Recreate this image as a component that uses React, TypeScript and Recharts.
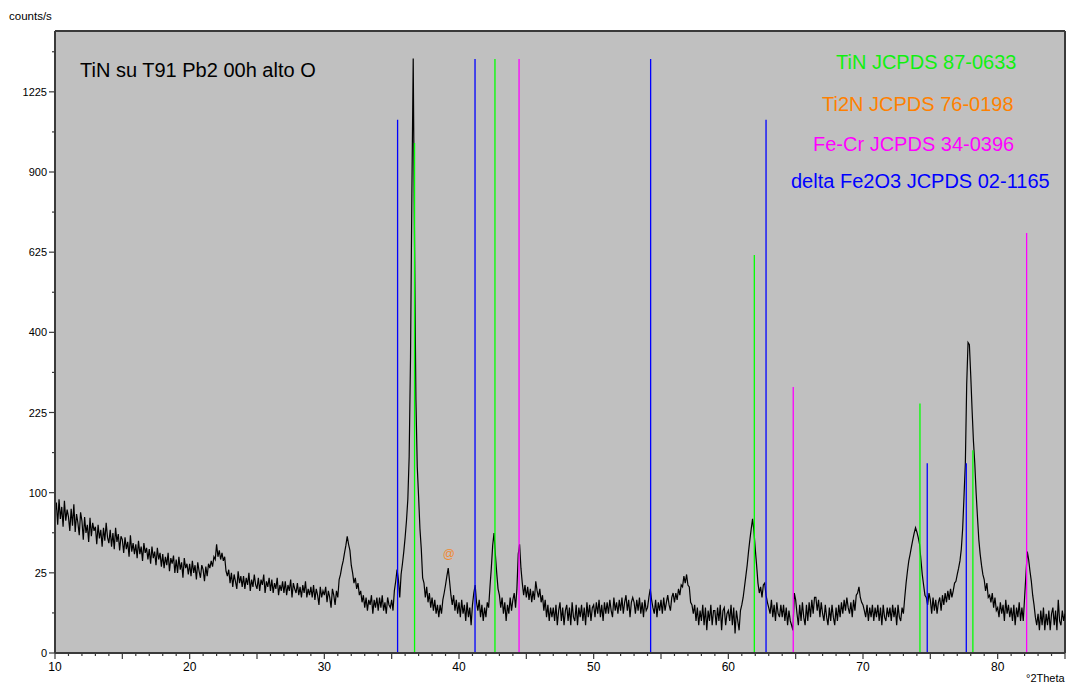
import React from 'react';
import { ComposedChart, Line, XAxis, YAxis, CartesianGrid, ReferenceLine, Scatter } from 'recharts';

const FONT = "'Liberation Sans', Arial, Helvetica, sans-serif";

// 2-theta grid: start and step of the measured pattern
const T_START = 10;
const T_STEP = 0.1;

// measured counts/s, one row per degree (x.0 ... x.9)
const counts: number[] = [
  76, 88, 64, 92, 70, 83, 62, 90, 68, 80, // 10
  72, 58, 81, 63, 86, 57, 75, 66, 54, 77, // 11
  68, 50, 72, 56, 64, 48, 71, 53, 66, 58, // 12
  62, 46, 64, 51, 59, 44, 61, 49, 66, 52, // 13
  47, 59, 44, 56, 42, 61, 48, 55, 41, 53, // 14
  50, 39, 52, 42, 48, 36, 54, 40, 47, 38, // 15
  46, 35, 49, 38, 44, 33, 47, 39, 43, 34, // 16
  42, 31, 44, 35, 40, 30, 43, 34, 39, 29, // 17
  38, 28, 36, 30, 39, 26, 35, 31, 37, 25, // 18
  34, 25, 36, 27, 32, 22, 35, 28, 31, 24, // 19
  31, 23, 33, 25, 30, 21, 32, 26, 22, 30, // 20
  27, 20, 29, 23, 31, 28, 33, 29, 36, 34, // 21
  46, 36, 41, 34, 39, 33, 36, 26, 23, 27, // 22
  19, 25, 17, 24, 20, 16, 26, 19, 23, 17, // 23
  23, 16, 22, 18, 25, 15, 21, 17, 24, 18, // 24
  16, 22, 15, 21, 18, 24, 14, 20, 17, 22, // 25
  15, 21, 14, 19, 16, 22, 13, 18, 15, 20, // 26
  14, 20, 13, 18, 15, 21, 12, 19, 16, 14, // 27
  19, 13, 17, 12, 18, 14, 20, 12, 16, 13, // 28
  17, 12, 18, 11, 16, 13, 9, 17, 12, 15,  // 29
  13, 17, 10, 15, 12, 8, 16, 13, 9, 15,   // 30
  12, 21, 24, 29, 33, 39, 45, 53, 46, 41, // 31
  30, 25, 19, 22, 16, 19, 13, 15, 10, 13, // 32
  8, 12, 7, 11, 9, 13, 6, 11, 8, 12,      // 33
  7, 12, 8, 13, 7, 10, 6, 12, 9, 8,       // 34
  11, 7, 15, 20, 27, 21, 12, 24, 31, 40,  // 35
  52, 68, 92, 150, 340, 820, 1375, 640, 250, 135, // 36
  95, 60, 42, 22, 19, 12, 17, 10, 14, 8,  // 37
  12, 7, 11, 6, 9, 5, 9, 6, 11, 14,       // 38
  18, 23, 28, 20, 13, 9, 13, 7, 11, 6,    // 39
  10, 5, 11, 6, 9, 4, 10, 5, 8, 3,        // 40
  9, 14, 18, 10, 7, 11, 5, 9, 4, 8,       // 41
  5, 10, 8, 17, 28, 45, 56, 38, 25, 16,   // 42
  13, 8, 12, 6, 10, 4, 9, 6, 12, 7,       // 43
  11, 14, 8, 16, 38, 46, 28, 19, 13, 18,  // 44
  12, 17, 11, 16, 10, 15, 11, 20, 15, 12, // 45
  16, 10, 13, 7, 11, 5, 9, 4, 8, 5,       // 46
  8, 4, 9, 3, 7, 10, 4, 8, 3, 7,          // 47
  9, 4, 8, 3, 10, 5, 4, 9, 3, 8,          // 48
  5, 9, 4, 8, 3, 10, 5, 9, 4, 8,          // 49
  9, 5, 10, 6, 11, 5, 9, 4, 10, 6,        // 50
  10, 6, 11, 7, 5, 12, 7, 10, 6, 11,      // 51
  7, 12, 6, 10, 13, 7, 11, 5, 10, 12,     // 52
  10, 6, 11, 7, 12, 6, 10, 5, 11, 7,      // 53
  8, 12, 16, 11, 8, 6, 11, 5, 10, 7,      // 54
  11, 6, 12, 7, 10, 13, 9, 7, 12, 14,     // 55
  10, 14, 11, 16, 13, 18, 17, 23, 19, 24, // 56
  18, 17, 10, 9, 6, 9, 4, 8, 3, 7,        // 57
  4, 9, 3, 8, 2, 7, 4, 9, 3, 7,           // 58
  7, 3, 8, 4, 9, 2, 7, 8, 3, 6,           // 59
  7, 4, 9, 3, 8, 1.5, 7, 4, 2, 7,         // 60
  9, 12, 17, 23, 30, 40, 50, 60, 70, 58,  // 61
  42, 30, 19, 14, 17, 12, 18, 19, 13, 10, // 62
  8, 6, 11, 5, 9, 4, 10, 6, 5, 9,         // 63
  5, 9, 4, 8, 3, 7, 4, 3, 2, 14,          // 64
  11, 6, 3, 9, 4, 10, 5, 3, 9, 4,         // 65
  10, 5, 11, 6, 12, 12, 7, 11, 5, 10,     // 66
  6, 4, 9, 5, 3, 8, 4, 9, 5, 3,           // 67
  8, 4, 9, 5, 10, 6, 11, 7, 12, 8,        // 68
  6, 10, 5, 11, 7, 13, 14, 17, 12, 10,    // 69
  9, 7, 5, 9, 4, 8, 5, 9, 4, 8,           // 70
  5, 9, 4, 8, 3, 9, 5, 4, 8, 5,           // 71
  8, 4, 9, 5, 8, 3, 9, 5, 4, 8,           // 72
  6, 12, 19, 26, 33, 38, 44, 50, 56, 61,  // 73
  57, 52, 46, 34, 24, 18, 13, 12, 9, 14,  // 74
  11, 6, 12, 7, 11, 6, 10, 12, 7, 13,     // 75
  9, 14, 10, 15, 11, 16, 12, 15, 19, 20,  // 76
  24, 28, 33, 42, 60, 95, 140, 280, 375, 370, // 77
  300, 230, 175, 140, 100, 72, 50, 38, 30, 24, // 78
  21, 15, 19, 12, 13, 10, 14, 8, 12, 7,   // 79
  8, 5, 10, 6, 9, 4, 11, 6, 9, 5,         // 80
  8, 4, 9, 3, 8, 5, 10, 4, 8, 4,          // 81
  12, 24, 40, 34, 26, 20, 13, 9, 5, 3,    // 82
  6, 2, 7, 3, 8, 2, 6, 3, 7, 2,           // 83
  6, 8, 3, 7, 2, 11, 4, 3, 7, 4,          // 84
  6,                                      // 85
];

// axis ticks
const xLabelTicks = [10, 20, 30, 40, 50, 60, 70, 80];
const yMajorTicks = [0, 25, 100, 225, 400, 625, 900, 1225];
const yMinorTicks = [6.25, 56.25, 156.25, 306.25, 506.25, 756.25, 1056.25, 1406.25];

// reference patterns (position in 2theta, stick height on the counts scale)
const tinPos = [36.70, 42.67, 61.93, 74.23, 78.16];
const tinHeight = [1012, 1373, 616, 242, 160];
const fecrPos = [44.46, 64.82, 82.15];
const fecrHeight = [1373, 275, 686];
const fe2o3Pos = [35.44, 41.19, 54.23, 62.80, 74.77, 77.67];
const fe2o3Height = [1106, 1373, 1373, 1106, 140, 140];
const ti2nMarkPos = [39.25];
const ti2nMarkHeight = [38];

const legendLabels = ['TiN JCPDS 87-0633', 'Ti2N JCPDS 76-0198', 'Fe-Cr JCPDS 34-0396', 'delta Fe2O3 JCPDS 02-1165'];
const legendColors = ['#10F010', '#FF8000', '#FF00FF', '#0000FF'];
const title = 'TiN su T91 Pb2 00h alto O';

const GREEN = '#00FF00';
const MAGENTA = '#FF00FF';
const BLUE = '#0000FF';
const AXIS = '#3a3a3a';

const pattern = counts.map((c, i) => ({ t: Math.round((T_START + i * T_STEP) * 10) / 10, c }));
const ti2nData = ti2nMarkPos.map((t, i) => ({ t, c: ti2nMarkHeight[i] }));
const sticks = [
  ...tinPos.map((t, i) => ({ t, h: tinHeight[i], color: GREEN })),
  ...fecrPos.map((t, i) => ({ t, h: fecrHeight[i], color: MAGENTA })),
  ...fe2o3Pos.map((t, i) => ({ t, h: fe2o3Height[i], color: BLUE })),
];
const xTicks: number[] = [];
for (let v = 10; v <= 85; v += 1) xTicks.push(v);
const yTicks = [...yMajorTicks, ...yMinorTicks].sort((a, b) => a - b);

const XTick = (props: any) => {
  const { x, y, payload } = props;
  const v = payload.value;
  const len = v % 5 === 0 ? 6 : 3;
  return (
    <g>
      <line x1={x} x2={x} y1={y} y2={y + len} stroke={AXIS} strokeWidth={1.2} />
      {xLabelTicks.includes(v) && (
        <text x={x} y={y + 18} textAnchor="middle" fontSize={12} fontFamily={FONT} fill="#000">
          {v}
        </text>
      )}
    </g>
  );
};

const YTick = (props: any) => {
  const { x, y, payload } = props;
  const v = payload.value;
  const major = yMajorTicks.includes(v);
  return (
    <g>
      <line x1={x - (major ? 6 : 3)} x2={x} y1={y} y2={y} stroke={AXIS} strokeWidth={1.2} />
      {major && (
        <text x={x - 8} y={y + 4} textAnchor="end" fontSize={11} fontFamily={FONT} fill="#000">
          {v}
        </text>
      )}
    </g>
  );
};

const AtShape = (props: any) => {
  const { cx, cy } = props;
  return (
    <text x={cx} y={cy + 4} textAnchor="middle" fontSize={12} fontFamily={FONT} fill="#F08A30">
      @
    </text>
  );
};

export default function App() {
  return (
    <div style={{ position: 'absolute', left: 0, top: 0, width: 1068, height: 684, background: '#fff' }}>
      <ComposedChart
        width={1068}
        height={684}
        data={pattern}
        margin={{ top: 31, right: 3, bottom: 0, left: 0 }}
      >
        <CartesianGrid horizontal={false} vertical={false} fill="#C0C0C0" />
        <XAxis
          dataKey="t"
          type="number"
          domain={[10, 85]}
          ticks={xTicks}
          interval={0}
          tickSize={0}
          tickMargin={0}
          tick={<XTick />}
          height={31}
          axisLine={{ stroke: AXIS, strokeWidth: 2 }}
          allowDataOverflow
        />
        <YAxis
          type="number"
          scale="sqrt"
          domain={[0, 1505]}
          ticks={yTicks}
          interval={0}
          tickSize={0}
          tickMargin={0}
          tick={<YTick />}
          width={55}
          axisLine={{ stroke: AXIS, strokeWidth: 2 }}
          allowDataOverflow
        />
        <ReferenceLine y={1505} stroke={AXIS} strokeWidth={2} ifOverflow="visible" />
        <ReferenceLine x={85} stroke={AXIS} strokeWidth={2} ifOverflow="visible" />
        <Line
          dataKey="c"
          type="linear"
          stroke="#000"
          strokeWidth={1.2}
          dot={false}
          isAnimationActive={false}
        />
        {sticks.map((s, i) => (
          <ReferenceLine
            key={i}
            segment={[{ x: s.t, y: 0 }, { x: s.t, y: s.h }]}
            stroke={s.color}
            strokeWidth={1.3}
            ifOverflow="visible"
          />
        ))}
        <Scatter data={ti2nData} dataKey="c" shape={<AtShape />} isAnimationActive={false} />
      </ComposedChart>
      <svg
        width={1068}
        height={684}
        style={{ position: 'absolute', left: 0, top: 0, pointerEvents: 'none' }}
      >
        <text x={9} y={20} fontSize={11.5} fontFamily={FONT} fill="#000">counts/s</text>
        <text x={1026} y={682} fontSize={11} fontFamily={FONT} fill="#000">°2Theta</text>
        <text x={80} y={77} fontSize={20} fontFamily={FONT} fill="#000">{title}</text>
        <text x={836} y={69} fontSize={20} fontFamily={FONT} fill={legendColors[0]}>{legendLabels[0]}</text>
        <text x={822} y={111} fontSize={20} fontFamily={FONT} fill={legendColors[1]}>{legendLabels[1]}</text>
        <text x={813} y={151} fontSize={20} fontFamily={FONT} fill={legendColors[2]}>{legendLabels[2]}</text>
        <text x={791} y={188} fontSize={20} fontFamily={FONT} fill={legendColors[3]}>{legendLabels[3]}</text>
      </svg>
    </div>
  );
}
